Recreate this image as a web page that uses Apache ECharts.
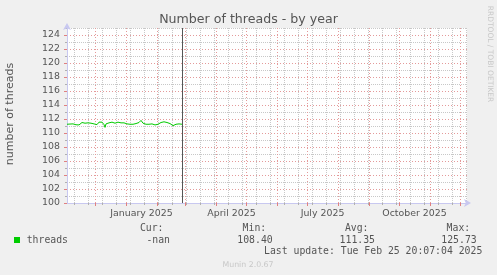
<!DOCTYPE html>
<html><head><meta charset="utf-8">
<script src="https://cdn.jsdelivr.net/npm/echarts@6/dist/echarts.min.js"></script>
<style>html,body{margin:0;padding:0;background:#f0f0f0}#c{width:497px;height:275px}</style>
</head><body><div id="c"></div>
<script>
const titleText = 'Number of threads - by year';
const yAxisName = 'number of threads';
const sideText = 'RRDTOOL / TOBI OETIKER';
const footerText = 'Munin 2.0.67';
const lastUpdate = 'Last update: Tue Feb 25 20:07:04 2025';
const seriesName = 'threads';
const legendLabels = ['Cur:', 'Min:', 'Avg:', 'Max:'];
const legendValues = ['-nan', '108.40', '111.35', '125.73'];

const startDate = '2024-11-02T12:00:00Z';
const endDate = '2025-12-07T12:00:00Z';
const nowDate = '2025-02-25T20:07:04Z';

// daily averages, one per day from startDate
const threads = [
  111.25, 111.3, 111.22, 111.28, 111.2, 111.25, 111.3, 111.25, 111.2, 111.18, 111.25, 111.3, 111.15, 111.05,
  111.1, 111.5,
  111.5, 111.45, 111.4, 111.35, 111.4, 111.45, 111.3, 111.35, 111.4, 111.5, 111.4, 111.3, 111.15,
  111.1, 111.2, 111.45,
  111.55, 111.5, 111.45, 111.55, 111.4, 111.2,
  110.8,
  111.3,
  111.5, 111.55, 111.45, 111.5, 111.4, 111.55, 111.6, 111.45, 111.4, 111.5, 111.45, 111.55, 111.5, 111.4, 111.45, 111.6, 111.5, 111.45, 111.5, 111.4, 111.3,
  111.1, 111.15,
  111.25, 111.3, 111.2, 111.25, 111.3, 111.4, 111.35, 111.3, 111.4, 111.5, 111.55,
  111.8, 111.6, 111.4,
  111.3, 111.35, 111.25, 111.2, 111.3, 111.25, 111.15, 111.2, 111.3, 111.25, 111.2, 111.15, 111.2, 111.3, 111.25, 111.35, 111.4, 111.5, 111.45, 111.55,
  111.6, 111.55, 111.6, 111.5, 111.4, 111.45, 111.35,
  111.3, 111.15, 111.05, 111.15, 111.2,
  111.25, 111.3, 111.25, 111.3, 111.35, 111.3, 111.25
];

const monthStarts = ['2024-12-01','2025-01-01','2025-02-01','2025-03-01','2025-04-01','2025-05-01','2025-06-01',
  '2025-07-01','2025-08-01','2025-09-01','2025-10-01','2025-11-01','2025-12-01'];
const minorDates = ['2024-11-10','2024-11-24','2024-12-08','2024-12-22','2025-01-05','2025-01-19','2025-02-02',
  '2025-02-16','2025-03-02','2025-03-16','2025-03-30','2025-04-13','2025-04-27','2025-05-11','2025-05-25',
  '2025-06-08','2025-06-22','2025-07-06','2025-07-20','2025-08-03','2025-08-17','2025-08-31','2025-09-14',
  '2025-09-28','2025-10-12','2025-10-26','2025-11-09','2025-11-23','2025-12-07'];
const xLabelDates = ['2025-01-16','2025-04-16','2025-07-16','2025-10-16'];
const xLabels = ['January 2025','April 2025','July 2025','October 2025'];
const yMajorTicks = [100,102,104,106,108,110,112,114,116,118,120,122,124];
const yMinorTicks = [101,103,105,107,109,111,113,115,117,119,121,123,125];
const yMin = 100, yMax = 125;

const DAY = 86400000;
const t = s => Date.parse(s.length === 10 ? s + 'T00:00:00Z' : s);
const xMin = t(startDate), xMax = t(endDate), nowT = t(nowDate);
const lineData = threads.map((v, i) => [xMin + i * DAY, v]);
const majorX = monthStarts.map(t);
const minorX = minorDates.map(t);
const labelX = xLabelDates.map(t);

const MAJOR = '#e49a9a', MINOR = '#c8c8c8', AXIS = '#c8c8f0', TXT = '#555';
const grid = { left: 67, top: 28, width: 400, height: 175, show: true, backgroundColor: '#ffffff', borderWidth: 0 };

const chart = echarts.init(document.getElementById('c'), null, { renderer: 'canvas' });
const mono = 'DejaVu Sans Mono';
const legendX = [170, 272.7, 375, 476.7];
const graphics = [
  { type: 'text', x: 248.5, y: 19.5, style: { text: titleText, fill: TXT, font: '12.6px "DejaVu Sans"', textAlign: 'center', textVerticalAlign: 'middle' } },
  { type: 'text', x: 10.5, y: 114, rotation: Math.PI / 2, style: { text: yAxisName, fill: TXT, font: '11px "DejaVu Sans"', textAlign: 'center', textVerticalAlign: 'middle' } },
  { type: 'text', x: 490, y: 54, rotation: -Math.PI / 2, style: { text: sideText, fill: '#c8c8c8', font: '7.5px "DejaVu Sans"', textAlign: 'center', textVerticalAlign: 'middle' } },
  { type: 'rect', shape: { x: 14, y: 237, width: 6, height: 6 }, style: { fill: '#00cc00' } },
  { type: 'text', x: 26.7, y: 240.5, style: { text: seriesName, fill: TXT, font: '9.8px ' + mono, textAlign: 'left', textVerticalAlign: 'middle' } },
  { type: 'text', x: 482.3, y: 251.5, style: { text: lastUpdate, fill: TXT, font: '9.8px ' + mono, textAlign: 'right', textVerticalAlign: 'middle' } },
  { type: 'text', x: 248, y: 264.5, style: { text: footerText, fill: '#c8c8c8', font: '7.8px "DejaVu Sans"', textAlign: 'center', textVerticalAlign: 'middle' } }
];
legendLabels.forEach((s, i) => {
  graphics.push({ type: 'text', x: legendX[i] - 6.5, y: 228, style: { text: s, fill: TXT, font: '9.8px ' + mono, textAlign: 'right', textVerticalAlign: 'middle' } });
  graphics.push({ type: 'text', x: legendX[i], y: 240.5, style: { text: legendValues[i], fill: TXT, font: '9.8px ' + mono, textAlign: 'right', textVerticalAlign: 'middle' } });
});

chart.setOption({
  animation: false,
  backgroundColor: '#f0f0f0',
  grid: grid,
  xAxis: [
    { type: 'value', min: xMin, max: xMax, position: 'bottom',
      axisLine: { show: false }, axisLabel: { show: false },
      axisTick: { show: true, customValues: minorX, length: 2, lineStyle: { color: '#b0b0b0' } },
      splitLine: { show: true, lineStyle: { color: MINOR, type: [1, 1], width: 1 } } },
    { type: 'value', min: xMin, max: xMax, position: 'bottom',
      axisLine: { show: true, lineStyle: { color: AXIS, width: 1 }, symbol: ['none', 'arrow'], symbolSize: [6, 7], symbolOffset: [0, 4] },
      axisTick: { show: true, customValues: majorX, length: 3, lineStyle: { color: '#e08080' } },
      axisLabel: { show: true, customValues: labelX, margin: 6, color: TXT, fontSize: 9.4, fontFamily: 'DejaVu Sans',
        formatter: v => { const k = labelX.indexOf(v); return k >= 0 ? xLabels[k] : ''; } },
      splitLine: { show: true, lineStyle: { color: MAJOR, type: [1, 2], width: 1 } } }
  ],
  yAxis: [
    { type: 'value', min: yMin, max: yMax, position: 'left',
      axisLine: { show: false }, axisLabel: { show: false },
      axisTick: { show: true, customValues: yMinorTicks, length: 2, lineStyle: { color: '#b0b0b0' } },
      splitLine: { show: true, lineStyle: { color: MINOR, type: [1, 1], width: 1 } } },
    { type: 'value', min: yMin, max: yMax, position: 'left',
      axisLine: { show: true, lineStyle: { color: AXIS, width: 1 }, symbol: ['none', 'arrow'], symbolSize: [6, 7], symbolOffset: [0, 5] },
      axisTick: { show: true, customValues: yMajorTicks, length: 3, lineStyle: { color: '#e08080' } },
      axisLabel: { show: true, customValues: yMajorTicks, margin: 7, color: TXT, fontSize: 9.4, fontFamily: 'DejaVu Sans' },
      splitLine: { show: true, lineStyle: { color: MAJOR, type: [1, 2], width: 1 } } }
  ],
  series: [{
    type: 'line', name: seriesName, xAxisIndex: 1, yAxisIndex: 1, data: lineData,
    showSymbol: false, symbol: 'none', lineStyle: { color: '#00cc00', width: 1 }, itemStyle: { color: '#00cc00' },
    markLine: { silent: true, symbol: ['none', 'none'], label: { show: false },
      lineStyle: { color: '#555', type: 'solid', width: 1 }, data: [{ xAxis: nowT }] }
  }],
  graphic: graphics
});
</script></body></html>
